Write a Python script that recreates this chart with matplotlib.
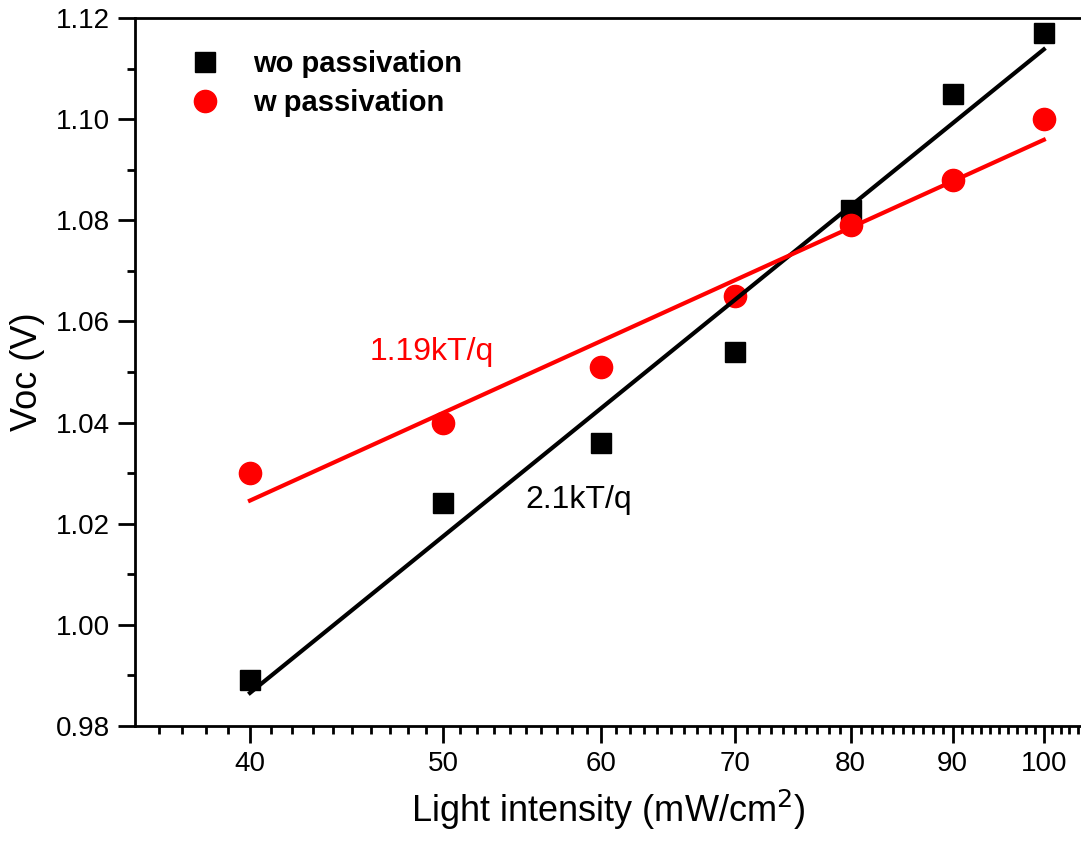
import matplotlib.pyplot as plt
import numpy as np
from matplotlib.ticker import FixedLocator, MultipleLocator, NullFormatter

plt.rcParams['font.family'] = ['Liberation Sans', 'DejaVu Sans']

intensity = [40, 50, 60, 70, 80, 90, 100]
voc_wo = [0.989, 1.024, 1.036, 1.054, 1.082, 1.105, 1.117]
voc_w = [1.030, 1.040, 1.051, 1.065, 1.079, 1.088, 1.100]
x_ticks = [40, 50, 60, 70, 80, 90, 100]


def fitLine(x, y):
    # Voc linear in ln(I)
    k, b = np.polyfit(np.log(x), y, 1)
    xs = np.array([x[0], x[-1]])
    return xs, k * np.log(xs) + b


fig = plt.figure(figsize=(10.81, 8.43), dpi=100)
ax = fig.add_axes([0.1249, 0.1388, 0.876, 0.8398])

ax.plot(intensity, voc_wo, 's', color='black', markersize=14, label='wo passivation')
ax.plot(intensity, voc_w, 'o', color='red', markersize=16, label='w passivation')

xs, ys = fitLine(intensity, voc_wo)
ax.plot(xs, ys, '-', color='black', linewidth=3)
xs, ys = fitLine(intensity, voc_w)
ax.plot(xs, ys, '-', color='red', linewidth=3)

ax.text(45.9, 1.054, '1.19kT/q', color='red', fontsize=23, va='center')
ax.text(55.0, 1.0247, '2.1kT/q', color='black', fontsize=23, va='center')

ax.set_xscale('log')
ax.set_xlim(35.03, 104.5)
ax.set_ylim(0.98, 1.12)
ax.xaxis.set_major_locator(FixedLocator(x_ticks))
ax.xaxis.set_minor_locator(FixedLocator([v for v in range(36, 105) if v % 10 != 0]))
ax.xaxis.set_major_formatter(plt.FixedFormatter([str(v) for v in x_ticks]))
ax.xaxis.set_minor_formatter(NullFormatter())
ax.yaxis.set_major_locator(MultipleLocator(0.02))
ax.yaxis.set_minor_locator(MultipleLocator(0.01))
ax.yaxis.set_major_formatter(plt.FormatStrFormatter('%.2f'))

ax.tick_params(which='major', direction='out', length=12, width=2, labelsize=20, pad=6)
ax.tick_params(which='minor', direction='out', length=6, width=2)
ax.tick_params(top=False, right=False)
for s in ['left', 'bottom', 'top']:
    ax.spines[s].set_linewidth(2)
ax.spines['right'].set_visible(False)

ax.set_xlabel('Light intensity (mW/cm$^2$)', fontsize=26, labelpad=8)
ax.set_ylabel('Voc (V)', fontsize=26, labelpad=8)

ax.legend(loc='upper left', frameon=False, handlelength=1.0, handletextpad=1.15,
          borderaxespad=0, bbox_to_anchor=(0.0465, 0.971), labelspacing=0.37,
          prop={'size': 21, 'weight': 'bold'})

fig.savefig('out.png', dpi=100)
